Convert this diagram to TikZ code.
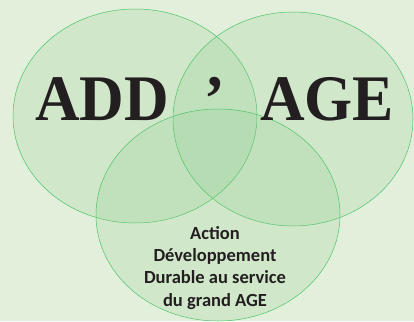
\documentclass[tikz,border=0pt]{standalone}
\usepackage{fontspec}
\setmainfont{Liberation Serif}
\newfontfamily\carlito{Carlito}
\usetikzlibrary{positioning}

\definecolor{bgGreen}{RGB}{226,239,218}
\definecolor{fillGreen}{RGB}{130,200,130}
\definecolor{lineGreen}{RGB}{76,195,106}
\definecolor{inkGray}{RGB}{35,31,32}

\begin{document}
\begin{tikzpicture}[x=1pt, y=-1pt,
		blob/.style={fill=fillGreen, fill opacity=0.18, draw=lineGreen, draw opacity=1, line width=0.5pt},
		bigword/.style={font=\fontsize{65}{65}\selectfont\bfseries, text=inkGray, inner sep=0pt, anchor=base, xscale=0.95},
		caption/.style={font=\carlito\fontsize{18.5}{22.3}\selectfont\bfseries, text=inkGray, align=center, inner sep=0pt}]

		% background
		\fill[bgGreen] (0,0) rectangle (414,321);
		\useasboundingbox (0,0) rectangle (414,321);

		% the three circles
		\coordinate (L) at (135,116);
		\coordinate (R) at (293,119);
		\coordinate (B) at (218,215);
		\draw[blob] (L) ellipse [x radius=122, y radius=107];
		\draw[blob] (R) ellipse [x radius=120, y radius=107];
		\draw[blob] (B) ellipse [x radius=122, y radius=106];

		% title
		\node[bigword] (add) at (102,120) {ADD};
		\node[bigword] (apos) at (215,120) {’};
		\node[bigword] (age) at (327,120) {AGE};

		% text in the bottom circle
		\node[caption, anchor=north] (txt) at (215,226) {Action\\Développement\\Durable au service\\du grand AGE};
	\end{tikzpicture}
\end{document}
